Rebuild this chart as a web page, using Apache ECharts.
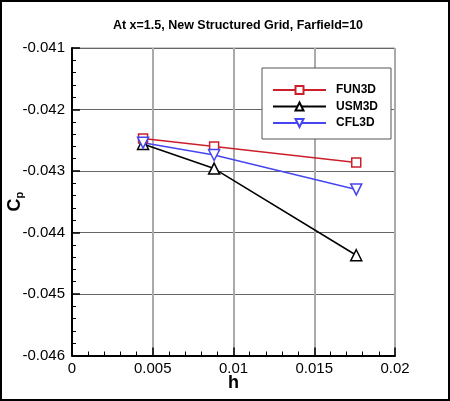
<!DOCTYPE html>
<html>
	<head>
		<meta http-equiv="Content-Type" content="text/html; charset=utf-8" />
		<title></title>
		<script type="text/javascript" src="https://cdn.jsdelivr.net/npm/echarts@6/dist/echarts.min.js"></script>
		<style>
			body { margin: 0; background: #fff; }
			#infoChart { width: 450px; height: 401px; }
		</style>
	</head>
	<body>
		<div id="infoChart"></div>
		<script type="text/javascript">
			// grid spacing h and Cp values
			var hValues = [0.0044, 0.0088, 0.0176];
			var fun3d = [-0.04247, -0.04260, -0.04286];
			var usm3d = [-0.04256, -0.04296, -0.04437];
			var cfl3d = [-0.04254, -0.04274, -0.04330];
			var xTickLabels = ['0', '0.005', '0.01', '0.015', '0.02'];
			var yTickLabels = ['-0.046', '-0.045', '-0.044', '-0.043', '-0.042', '-0.041'];

			function pairs(ys) {
				return hValues.map(function (h, i) { return [h, ys[i]]; });
			}

			var font = '"Liberation Sans", Arial, Helvetica, sans-serif';

			var option = {
			    animation: false,
			    backgroundColor: '#fff',
			    title: {
			        text: 'At x=1.5, New Structured Grid, Farfield=10',
			        left: 233, top: 14, textAlign: 'center',
			        textStyle: { fontFamily: font, fontSize: 12.5, fontWeight: 'bold', color: '#000' }
			    },
			    legend: {
			        orient: 'vertical',
			        left: 262, top: 68,
			        padding: [16, 13, 10, 10],
			        itemWidth: 53, itemHeight: 10, itemGap: 4.5,
			        borderColor: '#555', borderWidth: 1,
			        backgroundColor: '#fff',
			        textStyle: { fontFamily: font, fontSize: 12, fontWeight: 'bold', color: '#000', padding: [0, 0, 0, 5] },
			        data: ['FUN3D', 'USM3D', 'CFL3D']
			    },
			    grid: {
			        left: 72, right: 55, top: 48, bottom: 45.5,
			        outerBoundsMode: 'none',
			        show: true, borderColor: '#999', borderWidth: 1
			    },
			    xAxis: {
			        type: 'value',
			        min: 0, max: 0.02, interval: 0.005,
			        name: 'h', nameLocation: 'middle', nameGap: 19, nameMoveOverlap: false,
			        nameTextStyle: { fontFamily: font, fontSize: 18, fontWeight: 'bold', color: '#000' },
			        axisLine: { lineStyle: { color: '#000', width: 2 } },
			        axisTick: { inside: true, length: 8, lineStyle: { color: '#000', width: 1.5 } },
			        minorTick: { show: true, splitNumber: 5, length: 4, lineStyle: { color: '#000', width: 1 } },
			        axisLabel: {
			            fontFamily: font, fontSize: 15, color: '#000', margin: 6,
			            formatter: function (v, i) { return xTickLabels[i]; }
			        },
			        splitLine: { lineStyle: { color: '#aaa', width: 2 } }
			    },
			    yAxis: {
			        type: 'value',
			        min: -0.046, max: -0.041, interval: 0.001,
			        name: '{c|C}{p|p}', nameLocation: 'middle', nameGap: 47, nameRotate: 90,
			        nameMoveOverlap: false,
			        nameTextStyle: {
			            color: '#000',
			            rich: {
			                c: { fontFamily: font, fontSize: 18, fontWeight: 'bold', color: '#000' },
			                p: { fontFamily: font, fontSize: 11, fontWeight: 'bold', color: '#000', padding: [8, 0, 0, 0] }
			            }
			        },
			        axisLine: { lineStyle: { color: '#000', width: 2 } },
			        axisTick: { inside: true, length: 8, lineStyle: { color: '#000', width: 1.5 } },
			        minorTick: { show: true, splitNumber: 5, length: 4, lineStyle: { color: '#000', width: 1 } },
			        axisLabel: {
			            fontFamily: font, fontSize: 15, color: '#000', margin: 7,
			            formatter: function (v, i) { return yTickLabels[i]; }
			        },
			        splitLine: { lineStyle: { color: '#666', width: 1 } }
			    },
			    graphic: [{
			        type: 'rect', z: 100,
			        shape: { x: 1, y: 1, width: 448, height: 399 },
			        style: { fill: 'none', stroke: '#000', lineWidth: 2 }
			    }],
			    series: [
			        {
			            name: 'FUN3D', type: 'line', data: pairs(fun3d),
			            symbol: 'rect', symbolSize: 9,
			            itemStyle: { color: '#fff', borderColor: '#cc1f2b', borderWidth: 1.5 },
			            lineStyle: { color: '#cc1f2b', width: 1.5 }
			        },
			        {
			            name: 'USM3D', type: 'line', data: pairs(usm3d),
			            symbol: 'triangle', symbolSize: 11,
			            itemStyle: { color: '#fff', borderColor: '#000', borderWidth: 1.5 },
			            lineStyle: { color: '#000', width: 1.5 }
			        },
			        {
			            name: 'CFL3D', type: 'line', data: pairs(cfl3d),
			            symbol: 'triangle', symbolRotate: 180, symbolSize: 11,
			            itemStyle: { color: '#fff', borderColor: '#4646f0', borderWidth: 1.5 },
			            lineStyle: { color: '#4646f0', width: 1.5 }
			        }
			    ]
			};

			var mychart = echarts.init(document.getElementById('infoChart'));
			mychart.setOption(option);
		</script>
	</body>
</html>
